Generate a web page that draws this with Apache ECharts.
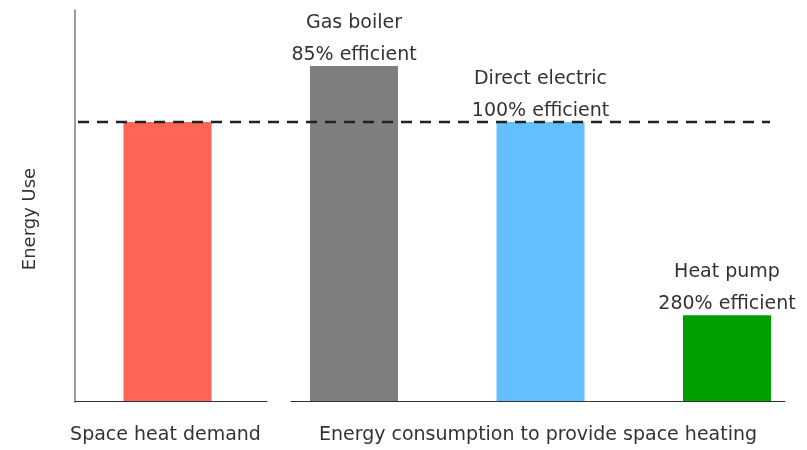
<!DOCTYPE html>
<html>
<head>
<meta charset="utf-8">
<script src="https://cdn.jsdelivr.net/npm/echarts@6/dist/echarts.min.js"></script>
<style>
  html, body { margin: 0; padding: 0; background: #fff; }
  #chart { width: 807px; height: 450px; }
</style>
</head>
<body>
<div id="chart"></div>
<script>
// Bars: heat demand followed by the energy each system uses to meet it
const categories = ['Space heat demand', 'Gas boiler', 'Direct electric', 'Heat pump'];
const energyUse = [100, 120, 100, 31];
const efficiencies = ['', '85%', '100%', '280%'];
const barColors = ['#ff6454', '#7f7f7f', '#64bfff', '#009f00'];
const groupLabels = ['Space heat demand', 'Energy consumption to provide space heating'];
const demandLevel = energyUse[0];

const FONT = '"DejaVu Sans"';
const FONT_SIZE = 19;
const TEXT = '#333';
const Y_MAX = 140;

const chart = echarts.init(document.getElementById('chart'), null, { renderer: 'canvas' });

const hiddenAxis = {
  axisLine: { show: false }, axisTick: { show: false },
  axisLabel: { show: false }, splitLine: { show: false }
};

function groupAxis(gridIndex, name, pad) {
  return {
    type: 'value', gridIndex, min: 0, max: 1, z: 5,
    axisLine: { show: true, lineStyle: { color: '#333', width: 1 } },
    axisTick: { show: false }, axisLabel: { show: false }, splitLine: { show: false },
    name, nameLocation: 'middle', nameGap: 25,
    nameTextStyle: { fontFamily: FONT, fontSize: FONT_SIZE, color: TEXT, padding: pad }
  };
}

chart.setOption({
  animation: false,
  backgroundColor: '#fff',
  grid: [
    { left: 74.25, top: 10, bottom: 48, width: 746, outerBoundsMode: 'none' },   // bars
    { left: 75, top: 10, bottom: 48, width: 192 },      // demand baseline
    { left: 291, top: 10, bottom: 48, width: 494 },     // consumption baseline
    { left: 78, top: 10, bottom: 48, width: 692 }       // demand reference line
  ],
  xAxis: [
    Object.assign({ type: 'category', gridIndex: 0, data: categories }, hiddenAxis),
    groupAxis(1, groupLabels[0], [0, 11, 0, 0]),
    groupAxis(2, groupLabels[1], [0, 0, 0, 0]),
    Object.assign({ type: 'value', gridIndex: 3, min: 0, max: 1 }, hiddenAxis)
  ],
  yAxis: [
    {
      type: 'value', gridIndex: 0, min: 0, max: Y_MAX,
      axisLine: { show: true, lineStyle: { color: '#8a8a8a', width: 1.7 } },
      axisTick: { show: false }, axisLabel: { show: false }, splitLine: { show: false },
      name: 'Energy Use', nameLocation: 'middle', nameGap: 35,
      nameTextStyle: { fontFamily: FONT, fontSize: 18, color: TEXT, padding: [0, 26, 0, 0] }
    },
    Object.assign({ type: 'value', gridIndex: 1, min: 0, max: Y_MAX }, hiddenAxis),
    Object.assign({ type: 'value', gridIndex: 2, min: 0, max: Y_MAX }, hiddenAxis),
    Object.assign({ type: 'value', gridIndex: 3, min: 0, max: Y_MAX }, hiddenAxis)
  ],
  series: [
    {
      type: 'bar', xAxisIndex: 0, yAxisIndex: 0, barWidth: 88, z: 2,
      data: energyUse.map((v, i) => ({
        value: v,
        itemStyle: { color: barColors[i] },
        label: {
          show: efficiencies[i] !== '',
          formatter: categories[i] + '\n' + efficiencies[i] + ' efficient'
        }
      })),
      label: {
        position: 'top', distance: -5,
        fontFamily: FONT, fontSize: FONT_SIZE, color: TEXT, lineHeight: 32
      }
    },
    {
      type: 'line', xAxisIndex: 3, yAxisIndex: 3, z: 4,
      symbol: 'none', silent: true,
      lineStyle: { color: '#222', width: 2.5, type: [11, 8] },
      data: [[0, demandLevel], [1, demandLevel]]
    }
  ]
});
</script>
</body>
</html>
